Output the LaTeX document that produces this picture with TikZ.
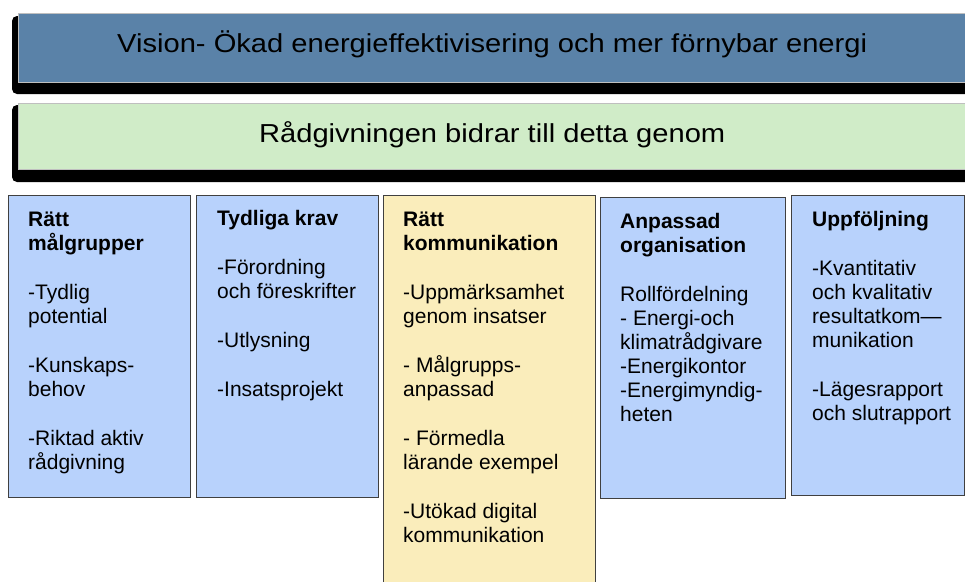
\documentclass[tikz,border=0pt]{standalone}
\usepackage{fontspec}
\setmainfont{Liberation Sans}
\newfontfamily\barfont[FakeStretch=1.12]{Liberation Sans}
\definecolor{visionblue}{HTML}{5A82A8}
\definecolor{bargreen}{HTML}{D0ECC8}
\definecolor{colblue}{HTML}{B8D2FC}
\definecolor{colyellow}{HTML}{FAEDBB}

\begin{document}
\begin{tikzpicture}[x=1pt,y=-1pt]
  \tikzstyle{bar} = [draw=gray!50, anchor=north west, inner sep=0pt, minimum width=948pt, font=\barfont\fontsize{26}{30}\selectfont]
  \tikzstyle{col} = [draw=black!75, line width=1.2pt, anchor=north west, inner sep=0pt, fill=colblue]
  \tikzstyle{txt} = [anchor=base west, align=left, inner sep=0pt, font=\fontsize{21}{24}\selectfont]
  \useasboundingbox (0,0) rectangle (965,581);

  % shadows behind the two bars
  \fill[black, rounded corners=5pt] (12,16) rectangle (990,94);
  \fill[black, rounded corners=5pt] (12,105) rectangle (990,182);

  \node[bar, fill=visionblue, minimum height=69pt, text height=18pt, text depth=9pt](vision) at (18,13){Vision- Ökad energieffektivisering och mer förnybar energi};
  \node[bar, fill=bargreen, minimum height=66pt, text height=19pt, text depth=7pt](advice) at (18,103){Rådgivningen bidrar till detta genom};

  % columns
  \node[col, minimum width=182pt, minimum height=302pt](c1) at (8,195){};
  \node[col, minimum width=182pt, minimum height=302pt](c2) at (196,195){};
  \node[col, fill=colyellow, minimum width=212pt, minimum height=420pt](c3) at (383,195){};
  \node[col, minimum width=185pt, minimum height=301pt](c4) at (600,197){};
  \node[col, minimum width=173pt, minimum height=300pt](c5) at (791,195){};

  % texts, placed by the baseline of their last line
  \node[txt](t1) at (28,469){\textbf{Rätt}\\\textbf{målgrupper}\\[25pt]-Tydlig\\potential\\[25pt]-Kunskaps-\\behov\\[25pt]-Riktad aktiv\\rådgivning};
  \node[txt](t2) at (217,396){\textbf{Tydliga krav}\\[25pt]-Förordning\\och föreskrifter\\[25pt]-Utlysning\\[25pt]-Insatsprojekt};
  \node[txt](t3) at (403,542){\textbf{Rätt}\\\textbf{kommunikation}\\[25pt]-Uppmärksamhet\\genom insatser\\[25pt]- Målgrupps-\\anpassad\\[25pt]- Förmedla\\lärande exempel\\[25pt]-Utökad digital\\kommunikation};
  \node[txt](t4) at (620,421){\textbf{Anpassad}\\\textbf{organisation}\\[25pt]Rollfördelning\\- Energi-och\\klimatrådgivare\\-Energikontor\\-Energimyndig-\\heten};
  \node[txt](t5) at (812,420){\textbf{Uppföljning}\\[25pt]-Kvantitativ\\och kvalitativ\\resultatkom—\\munikation\\[25pt]-Lägesrapport\\och slutrapport};
\end{tikzpicture}
\end{document}
